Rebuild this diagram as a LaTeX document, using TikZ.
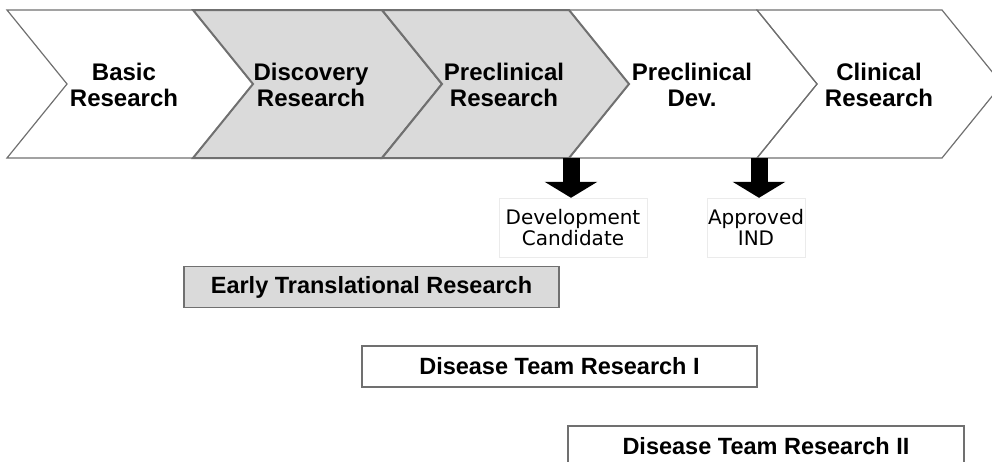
\documentclass[tikz,border=0pt]{standalone}
\usepackage{fontspec}
\setmainfont{Liberation Sans}
\newfontfamily\notefont{DejaVu Sans}
\usetikzlibrary{arrows.meta}
\definecolor{stagegray}{HTML}{DADADA}
\definecolor{edgegray}{HTML}{707070}

\begin{document}
\begin{tikzpicture}[x=1pt,y=-1pt,
  chevron/.style={draw=edgegray,line width=1.2pt},
  done/.style={chevron,fill=stagegray,line width=2pt},
  stage/.style={align=center,inner sep=0pt,font=\bfseries\fontsize{24}{25.5}\selectfont},
  track/.style={draw=edgegray,line width=1.5pt,minimum height=41pt,inner sep=0pt,font=\bfseries\fontsize{23.5}{25}\selectfont},
  milestone/.style={draw=black!8,fill=white,align=center,minimum height=59pt,inner sep=0pt,font=\notefont\fontsize{20}{21.5}\selectfont},
  gate/.style={line width=17pt,-{Triangle[width=52pt,length=16pt]}}]
\clip (0,0) rectangle (992,461);
% pipeline stages (white ones first, shaded ones on top)
\draw[chevron] (7,10) -- (193,10) -- (253,84) -- (193,158) -- (7,158) -- (67,84) -- cycle;
\draw[chevron] (569,10) -- (757,10) -- (817,84) -- (757,158) -- (569,158) -- (629,84) -- cycle;
\draw[chevron] (757,10) -- (942,10) -- (1002,84) -- (942,158) -- (757,158) -- (817,84) -- cycle;
\draw[done] (193,10) -- (382,10) -- (442,84) -- (382,158) -- (193,158) -- (253,84) -- cycle;
\draw[done] (382,10) -- (569,10) -- (629,84) -- (569,158) -- (382,158) -- (442,84) -- cycle;
\node[stage] (basic) at (124,85) {Basic\\Research};
\node[stage] (discovery) at (311,85) {Discovery\\Research};
\node[stage] (preclin) at (504,85) {Preclinical\\Research};
\node[stage] (predev) at (692,85) {Preclinical\\Dev.};
\node[stage] (clinical) at (879,85) {Clinical\\Research};
% milestones
\coordinate (c34) at (571,158);
\coordinate (c45) at (759,158);
\node[milestone,minimum width=148pt] (devcand) at (573,227.5) {Development\\Candidate};
\node[milestone,minimum width=98pt] (ind) at (756,227.5) {Approved\\IND};
\draw[gate] (c34) -- (c34 |- devcand.north);
\draw[gate] (c45) -- (c45 |- ind.north);
% funding tracks
\node[track,fill=stagegray,minimum width=375pt] (early) at (371.5,287) {Early Translational Research};
\node[track,fill=white,minimum width=395pt] (teamone) at (559.5,366.5) {Disease Team Research I};
\node[track,fill=white,minimum width=396pt] (teamtwo) at (766,446.5) {Disease Team Research II};
\end{tikzpicture}
\end{document}
